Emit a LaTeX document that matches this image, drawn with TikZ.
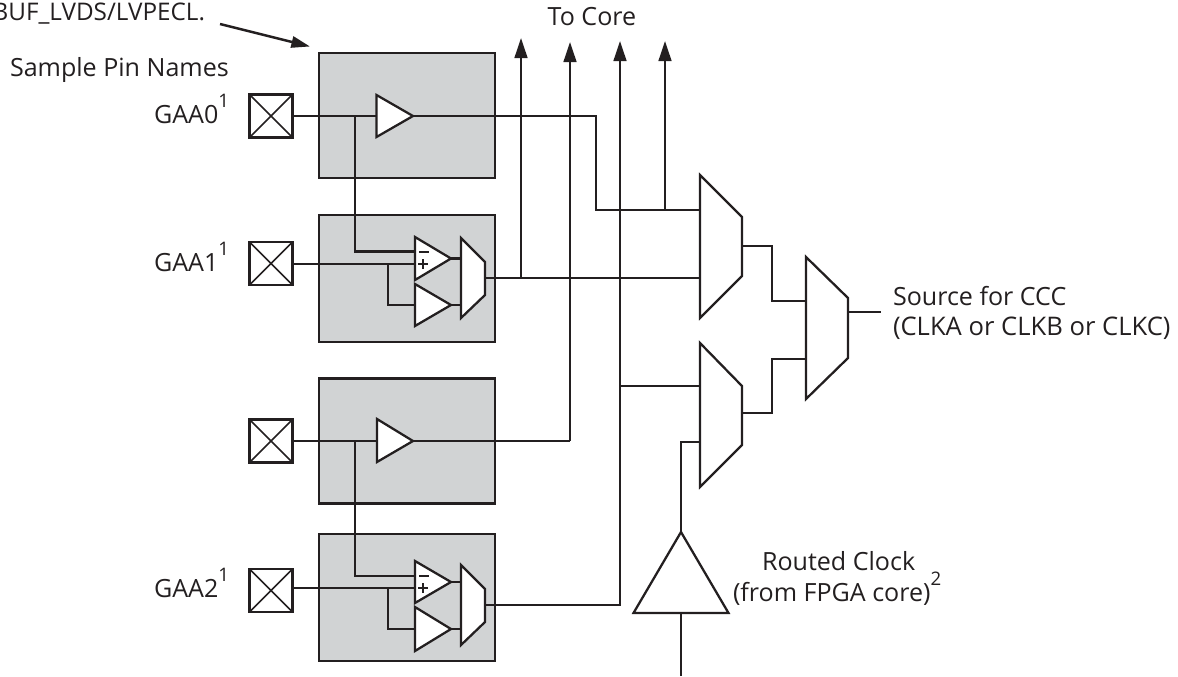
\documentclass[tikz,border=0pt]{standalone}
\usepackage{fontspec}
\setmainfont{Open Sans}
\definecolor{ink}{HTML}{231F20}
\definecolor{boxgray}{HTML}{D1D3D4}
\usetikzlibrary{arrows.meta}
\newcommand{\sups}[1]{\raisebox{12pt}{\fontsize{14}{14}\selectfont #1}}
% triangle: name, left x, top y, bottom y, tip x, tip y
\newcommand{\mktri}[6]{\coordinate (#1a) at (#2,#3);\coordinate (#1b) at (#5,#6);\coordinate (#1c) at (#2,#4);}
% mux: name, left x, right x, four y values
\newcommand{\mkmux}[7]{\coordinate (#1a) at (#2,#4);\coordinate (#1b) at (#3,#5);\coordinate (#1c) at (#3,#6);\coordinate (#1d) at (#2,#7);}
\begin{document}
\begin{tikzpicture}[x=0.75pt,y=-0.75pt,
  wire/.style={line width=1.85pt,color=ink},
  thin wire/.style={line width=1.6pt,color=ink},
  part/.style={line width=1.7pt,draw=ink,fill=white,line join=miter},
  grayblock/.style={draw=ink,fill=boxgray,line width=1.85pt,minimum width=132pt,minimum height=94pt,inner sep=0pt,outer sep=0pt},
  padbox/.style={draw=ink,fill=white,line width=1.85pt,minimum width=32.5pt,minimum height=32.5pt,inner sep=0pt,outer sep=0pt},
  label/.style={inner sep=0pt,outer sep=0pt,text=ink,font=\fontsize{18.8}{22}\selectfont},
  up arrow/.style={line width=1.85pt,color=ink,-{Triangle[length=15pt,width=9.5pt]}},
]
\useasboundingbox (0,0) rectangle (1178,676);
\clip (0,0) rectangle (1178,676);

% grey blocks
\node[grayblock] (b1) at (407,115.5) {};
\node[grayblock,minimum height=95pt] (b2) at (407,278.5) {};
\node[grayblock] (b3) at (407,441) {};
\node[grayblock,minimum height=95pt] (b4) at (407,597.5) {};

% pads
\foreach \n/\yy in {p1/116,p2/263.5,p3/441,p4/590.5}{
  \node[padbox] (\n) at (271,\yy) {};
  \draw[line width=1.3pt,color=ink] (\n.north west) -- (\n.south east) (\n.north east) -- (\n.south west);
}

% port coordinates
\mktri{t1}{376.5}{95}{137}{413}{116}
\mktri{t2}{415}{237}{280}{451}{258.5}
\mktri{t3}{415}{284}{326}{451}{305}
\mktri{t4}{377}{419}{462}{413}{441}
\mktri{t5}{415}{561}{603}{451}{582}
\mktri{t6}{415}{607}{651}{451}{629}
\mkmux{m1}{461}{485}{238}{262}{295}{318}
\mkmux{m2}{461}{485}{565}{589}{622}{645}
\mkmux{mA}{700}{742}{175}{217}{276}{318}
\mkmux{mB}{700}{742}{343}{386}{445}{487}
\mkmux{mC}{806}{848}{257}{298}{358}{399}
\coordinate (rt) at (681,532);
\coordinate (rl) at (633.5,613);
\coordinate (rr) at (728.5,613);
\coordinate (rin) at (681,676);

\coordinate (core1) at (521,38);
\coordinate (core2) at (570,42);
\coordinate (core3) at (620,41);
\coordinate (core4) at (665,41);
\coordinate (j1) at (355,116);
\coordinate (j3) at (355,441);
\coordinate (j2) at (388,264);
\coordinate (j4) at (388,588);
\coordinate (noteA) at (220,24);
\coordinate (noteB) at (310,46.5);
\coordinate (outC) at (881,312);

% wires
\draw[wire] (p1.east) -| (596,210) -- (700,210);
\draw[wire] (j1) |- (415,251.5);
\draw[wire] (p2.east |- j2) -- (415,264);
\draw[wire] (j2) |- (415,305);
\draw[wire] (t2b) -- (461,258.5);
\draw[wire] (t3b) -- (461,305);
\draw[wire] (485,278) -- (700,278);
\draw[wire] (p3.east) -- (570,441);
\draw[wire] (j3) |- (415,576);
\draw[wire] (p4.east |- j4) -- (415,588);
\draw[wire] (j4) |- (415,629);
\draw[wire] (t5b) -- (461,582);
\draw[wire] (t6b) -- (461,629);
\draw[wire] (485,605) -| (620,200);
\draw[up arrow] (521,278) -- (core1);
\draw[up arrow] (570,441) -- (core2);
\draw[up arrow] (620,200) -- (core3);
\draw[up arrow] (665,210) -- (core4);
\draw[wire] (620,386) -- (700,386);
\draw[thin wire] (rt) |- (700,442);
\draw[thin wire] (rin) -- (681,613);
\draw[thin wire] (742,246) -| (772,301) -- (806,301);
\draw[thin wire] (742,413) -| (772,359) -- (806,359);
\draw[thin wire] (848,312) -- (outC);
\draw[line width=1.85pt,color=ink,-{Triangle[length=14pt,width=8.5pt]}] (noteA) -- (noteB);

% gates
\foreach \n in {t1,t2,t3,t4,t5,t6}{\draw[part] (\n a) -- (\n b) -- (\n c) -- cycle;}
\foreach \n in {m1,m2}{\draw[part] (\n a) -- (\n b) -- (\n c) -- (\n d) -- cycle;}
\foreach \n in {mA,mB,mC}{\draw[part] (\n a) -- (\n b) -- (\n c) -- (\n d) -- cycle;}
\draw[part] (rt) -- (rl) -- (rr) -- cycle;
% signs of the comparators
\foreach \yy in {0,324}{
  \draw[line width=1.4pt,color=ink] (419,252+\yy) -- (429,252+\yy);
  \draw[line width=1.2pt,color=ink] (418,264+\yy) -- (428,264+\yy) (423,259+\yy) -- (423,269+\yy);
}

% labels
\node[label,anchor=base east,font=\fontsize{18.2}{22}\selectfont] (n0) at (205,20) {BUF\_LVDS/LVPECL.};
\node[label,anchor=base west] (n1) at (10,76) {Sample Pin Names};
\node[label,anchor=base east] (n2) at (229,123) {GAA0\sups{1}};
\node[label,anchor=base east] (n3) at (229,271) {GAA1\sups{1}};
\node[label,anchor=base east] (n4) at (229,597) {GAA2\sups{1}};
\node[label,anchor=base] (n5) at (592,25) {To Core};
\node[label,anchor=base west] (n6) at (893,305) {Source for CCC};
\node[label,anchor=base west,font=\fontsize{19.2}{22}\selectfont] (n7) at (893,335) {(CLKA or CLKB or CLKC)};
\node[label,anchor=base west] (n8) at (762,570) {Routed Clock};
\node[label,anchor=base west] (n9) at (733,601) {(from FPGA core)\sups{2}};
\end{tikzpicture}
\end{document}
